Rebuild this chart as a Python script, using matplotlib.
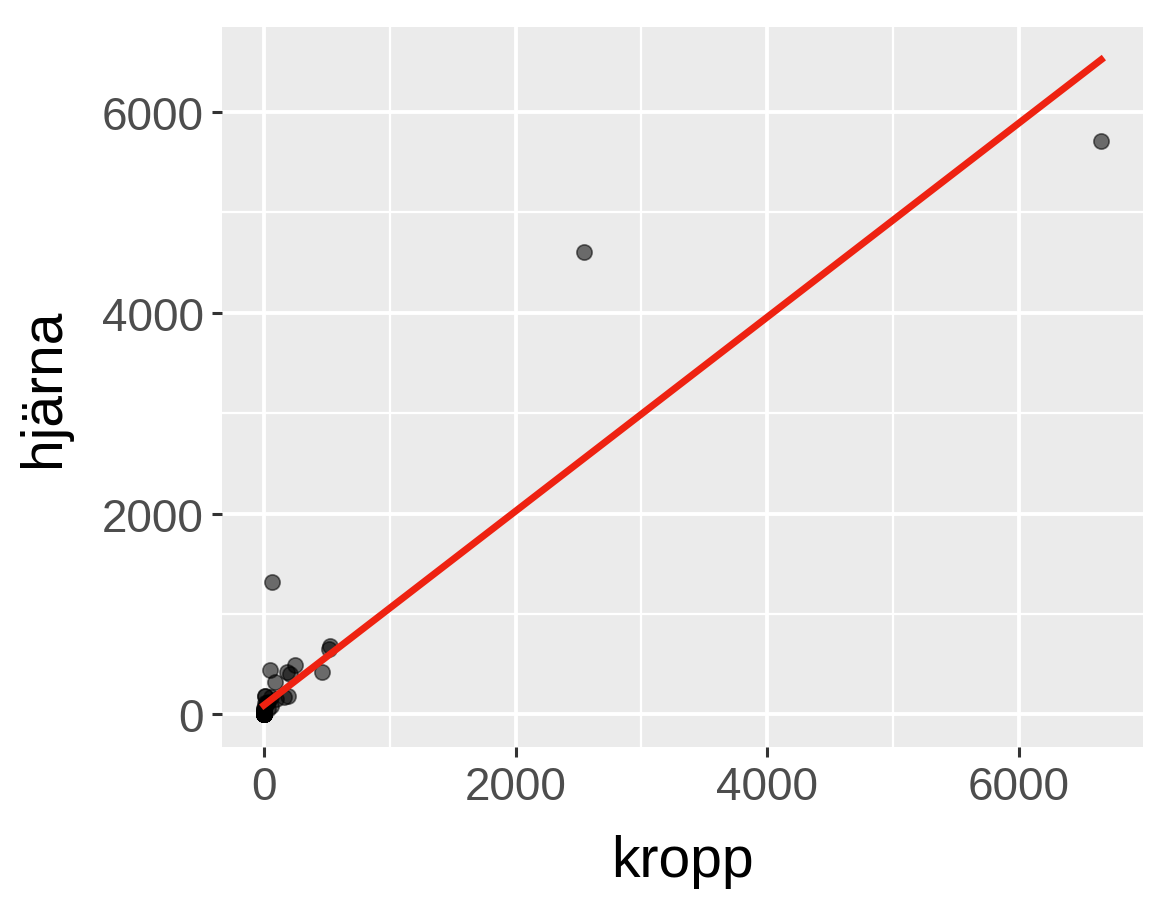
"""
plot.py

Brain vs body weight of mammals, with a linear fit.
"""

import matplotlib
matplotlib.use("Agg")
import matplotlib.pyplot as plt
import numpy as np

# body weight (kg) and brain weight (g)
kropp = [
    3.385, 0.480, 1.350, 465.0, 36.33, 27.66, 14.83, 1.040, 4.190, 0.425,
    0.101, 0.920, 1.000, 0.005, 0.060, 3.500, 2.000, 1.700, 2547.0, 0.023,
    187.1, 521.0, 0.785, 10.00, 3.300, 0.200, 1.410, 529.0, 207.0, 85.00,
    0.750, 62.00, 6654.0, 3.500, 6.800, 35.00, 4.050, 0.120, 0.023, 0.010,
    1.400, 250.0, 2.500, 55.50, 100.0, 52.16, 10.55, 0.550, 60.00, 3.600,
    4.288, 0.280, 0.075, 0.122, 0.048, 192.0, 3.000, 160.0, 0.900, 1.620,
    0.104, 4.235,
]
hjarna = [
    44.5, 15.5, 8.1, 423.0, 119.5, 115.0, 98.2, 5.5, 58.0, 6.4,
    4.0, 5.7, 6.6, 0.14, 1.0, 10.8, 12.3, 6.3, 4603.0, 0.3,
    419.0, 655.0, 3.5, 115.0, 25.6, 5.0, 17.5, 680.0, 406.0, 325.0,
    12.3, 1320.0, 5712.0, 3.9, 179.0, 56.0, 17.0, 1.0, 0.4, 0.25,
    12.5, 490.0, 12.1, 175.0, 157.0, 440.0, 179.5, 2.4, 81.0, 21.0,
    39.2, 1.9, 1.2, 3.0, 0.33, 180.0, 25.0, 169.0, 2.6, 11.4,
    2.5, 50.4,
]

x = np.array(kropp)
y = np.array(hjarna)

# linear fit (lm)
slope, intercept = np.polyfit(x, y, 1)
xs = np.array([x.min(), x.max()])
ys = intercept + slope * xs

plt.rcParams["font.family"] = ["Liberation Sans", "DejaVu Sans"]

fig = plt.figure(figsize=(5.865, 4.56), dpi=200)
ax = fig.add_axes([0.1893, 0.1798, 0.7851, 0.7895])
ax.set_facecolor("#EBEBEB")

ax.scatter(x, y, s=30, color="black", alpha=0.55, linewidths=0.6,
           edgecolors="black", zorder=3)
ax.plot(xs, ys, color="#EE2211", linewidth=2.5, zorder=4)

# ggplot-style 5% expansion
xr = x.max() - x.min()
ax.set_xlim(x.min() - 0.05 * xr, x.max() + 0.05 * xr)
ylo = min(y.min(), ys.min())
yhi = max(y.max(), ys.max())
yr = yhi - ylo
ax.set_ylim(ylo - 0.05 * yr, yhi + 0.05 * yr)

ax.set_xticks([0, 2000, 4000, 6000])
ax.set_yticks([0, 2000, 4000, 6000])
ax.set_xticks([1000, 3000, 5000], minor=True)
ax.set_yticks([1000, 3000, 5000], minor=True)

ax.grid(True, which="major", color="white", linewidth=1.4, zorder=0)
ax.grid(True, which="minor", color="white", linewidth=0.8, zorder=0)
ax.set_axisbelow(True)

for s in ax.spines.values():
    s.set_visible(False)

ax.tick_params(which="major", length=3.6, width=1.1, color="#333333",
               labelsize=16.5, labelcolor="#4D4D4D", pad=3)
ax.tick_params(which="minor", length=0)

ax.set_xlabel("kropp", fontsize=20.5, labelpad=9)
ax.set_ylabel("hjärna", fontsize=20.5, labelpad=11)

fig.savefig("out.png", dpi=200)
plt.close(fig)
